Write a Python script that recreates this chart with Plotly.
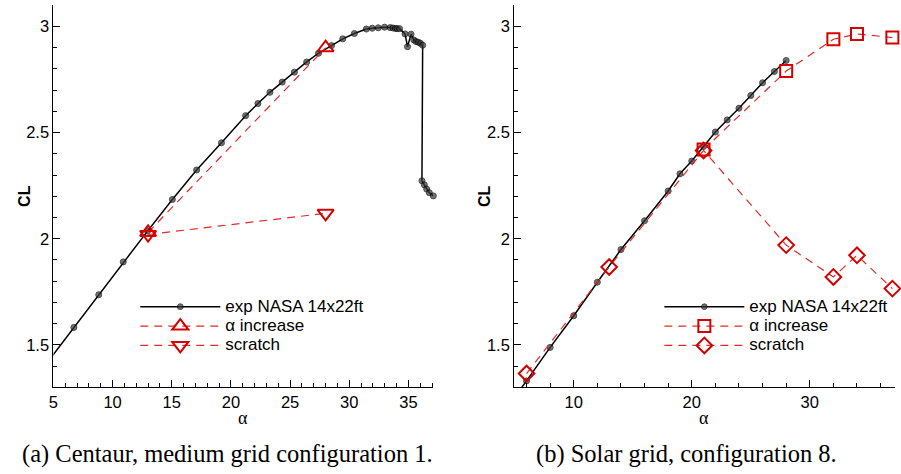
import plotly.graph_objects as go

# ---------------- data ----------------
# (a) Centaur, medium grid configuration 1
exp_a_alpha = [4.7, 6.73, 8.83, 10.9, 12.95, 15.05, 17.1, 19.2, 21.24, 22.28, 23.29, 24.33,
               25.36, 26.4, 27.4, 28.5, 29.45, 30.43, 31.44, 31.94, 32.45, 32.98, 33.46,
               33.7, 33.9, 34.05, 34.25, 34.71, 34.92, 35.22, 35.45, 35.64, 35.84, 36.01,
               36.2, 36.14, 36.34, 36.54, 36.76, 37.1]
exp_a_cl = [1.433, 1.582, 1.736, 1.891, 2.036, 2.185, 2.324, 2.452, 2.58, 2.637, 2.69, 2.738,
            2.785, 2.833, 2.874, 2.91, 2.942, 2.967, 2.988, 2.992, 2.994, 2.997, 2.995,
            2.993, 2.991, 2.99, 2.99, 2.965, 2.905, 2.964, 2.937, 2.929, 2.926, 2.921,
            2.912, 2.273, 2.254, 2.234, 2.217, 2.202]
inc_a_alpha = [13.0, 28.0]
inc_a_cl = [2.03, 2.90]
scr_a_alpha = [13.0, 28.0]
scr_a_cl = [2.02, 2.12]

# (b) Solar grid, configuration 8
exp_b_alpha = [4.0, 6.0, 8.0, 10.0, 12.0, 14.0, 16.0, 18.0, 19.0, 20.0, 21.0, 22.0, 23.0,
               24.0, 25.0, 26.0, 27.0, 28.0]
exp_b_cl = [1.18, 1.33, 1.488, 1.637, 1.795, 1.949, 2.085, 2.225, 2.306, 2.366, 2.435,
            2.503, 2.56, 2.615, 2.675, 2.735, 2.788, 2.84]
inc_b_alpha = [21.0, 28.0, 32.0, 34.0, 37.0]
inc_b_cl = [2.42, 2.79, 2.94, 2.965, 2.948]
scr_b_alpha = [6.0, 13.0, 21.0, 28.0, 32.0, 34.0, 37.0]
scr_b_cl = [1.365, 1.867, 2.416, 1.97, 1.82, 1.922, 1.765]

series_names = ["exp NASA 14x22ft", "\u03b1 increase", "scratch"]
captions = ["(a) Centaur, medium grid configuration 1.", "(b) Solar grid, configuration 8."]

# ---------------- layout helpers ----------------
W, H = 901, 474
XA_RANGE = [5, 37.1]
XB_RANGE = [4.95, 37.2]
Y_RANGE = [1.3, 3.1]

def px_x(p):
    return p / W

def px_y(p):
    return 1 - p / H

RED = "#d40000"
RED_LINE = "#e02a2a"
DASH = "8px,6px"
SANS = "Liberation Sans, Arial, sans-serif"
SERIF = "Liberation Serif, Times New Roman, serif"
EXP_FILL = "#383838"


def leg_name(s):
    return '<span style="font-size:17px">' + s + '</span>'


def exp_sizes(xs, xmin):
    return [0 if x < xmin else 6 for x in xs]


fig = go.Figure()

# left panel
fig.add_trace(go.Scatter(
    x=exp_a_alpha, y=exp_a_cl, mode="lines+markers", name=leg_name(series_names[0]),
    line=dict(color="black", width=1.5),
    marker=dict(symbol="circle", size=exp_sizes(exp_a_alpha, XA_RANGE[0]), color=EXP_FILL,
                line=dict(color="black", width=1)),
    cliponaxis=False, xaxis="x", yaxis="y", legend="legend"))
fig.add_trace(go.Scatter(
    x=inc_a_alpha, y=inc_a_cl, mode="lines+markers", name=leg_name(series_names[1]),
    line=dict(color=RED_LINE, width=1.2, dash=DASH),
    marker=dict(symbol="triangle-up-open", size=14, color=RED, line=dict(color=RED, width=2)),
    cliponaxis=False, xaxis="x", yaxis="y", legend="legend"))
fig.add_trace(go.Scatter(
    x=scr_a_alpha, y=scr_a_cl, mode="lines+markers", name=leg_name(series_names[2]),
    line=dict(color=RED_LINE, width=1.2, dash=DASH),
    marker=dict(symbol="triangle-down-open", size=14, color=RED, line=dict(color=RED, width=2)),
    cliponaxis=False, xaxis="x", yaxis="y", legend="legend"))

# right panel
fig.add_trace(go.Scatter(
    x=exp_b_alpha, y=exp_b_cl, mode="lines+markers", name=leg_name(series_names[0]),
    line=dict(color="black", width=1.5),
    marker=dict(symbol="circle", size=exp_sizes(exp_b_alpha, XB_RANGE[0]), color=EXP_FILL,
                line=dict(color="black", width=1)),
    cliponaxis=False, xaxis="x2", yaxis="y2", legend="legend2"))
fig.add_trace(go.Scatter(
    x=inc_b_alpha, y=inc_b_cl, mode="lines+markers", name=leg_name(series_names[1]),
    line=dict(color=RED_LINE, width=1.2, dash=DASH),
    marker=dict(symbol="square-open", size=12, color=RED, line=dict(color=RED, width=2)),
    cliponaxis=False, xaxis="x2", yaxis="y2", legend="legend2"))
fig.add_trace(go.Scatter(
    x=scr_b_alpha, y=scr_b_cl, mode="lines+markers", name=leg_name(series_names[2]),
    line=dict(color=RED_LINE, width=1.2, dash=DASH),
    marker=dict(symbol="diamond-open", size=12, color=RED, line=dict(color=RED, width=2)),
    cliponaxis=False, xaxis="x2", yaxis="y2", legend="legend2"))

tickfont = dict(family=SANS, size=16.5, color="black")

def xaxis_cfg(domain, rng, dtick, minor_dtick, anchor):
    return dict(domain=domain, range=rng, tick0=0, dtick=dtick, ticks="inside", ticklen=7,
                tickwidth=1, tickcolor="black",
                minor=dict(dtick=minor_dtick, tick0=0, ticks="inside", ticklen=4,
                           tickwidth=1, tickcolor="black", showgrid=False),
                showline=True, linecolor="black", linewidth=1, showgrid=False,
                zeroline=False, tickfont=tickfont, anchor=anchor, fixedrange=True)

def yaxis_cfg(domain, anchor):
    return dict(domain=domain, range=Y_RANGE, tick0=0, dtick=0.5, ticks="inside", ticklen=7,
                tickwidth=1, tickcolor="black",
                minor=dict(dtick=0.1, tick0=0, ticks="inside", ticklen=4,
                           tickwidth=1, tickcolor="black", showgrid=False),
                showline=True, linecolor="black", linewidth=1, showgrid=False,
                zeroline=False, tickfont=tickfont, anchor=anchor, fixedrange=True)

ydom = [px_y(387.3), px_y(5.3)]

legend_common = dict(xanchor="left", yanchor="top", itemwidth=80,
                     font=dict(family=SANS, size=12.6, color="black"),
                     bgcolor="rgba(0,0,0,0)", borderwidth=0, tracegroupgap=0,
                     traceorder="normal")

annotations = []
for cx in (19, 481.7):
    annotations.append(dict(text="<b>CL</b>", x=px_x(cx), y=px_y(196), xref="paper", yref="paper",
                            showarrow=False, textangle=-90, xanchor="center", yanchor="middle",
                            font=dict(family=SANS, size=16, color="black")))
for cx in (239.7, 703):
    annotations.append(dict(text="\u03b1", x=px_x(cx), y=px_y(418), xref="paper", yref="paper",
                            showarrow=False, xanchor="center", yanchor="middle",
                            font=dict(family=SERIF, size=18, color="black")))
for cap, cx in zip(captions, (223.5, 685.5)):
    annotations.append(dict(text=cap, x=px_x(cx), y=px_y(454), xref="paper", yref="paper",
                            showarrow=False, xanchor="center", yanchor="middle",
                            font=dict(family=SERIF, size=24.5, color="black")))

fig.update_layout(
    width=W, height=H, margin=dict(l=0, r=0, t=0, b=0),
    paper_bgcolor="white", plot_bgcolor="white",
    xaxis=xaxis_cfg([px_x(48.7), px_x(430.7)], XA_RANGE, 5, 1, "y"),
    yaxis=yaxis_cfg(ydom, "x"),
    xaxis2=xaxis_cfg([px_x(512), px_x(894.7)], XB_RANGE, 10, 2, "y2"),
    yaxis2=yaxis_cfg(ydom, "x2"),
    legend=dict(x=px_x(131), y=px_y(292), **legend_common),
    legend2=dict(x=px_x(658), y=px_y(292), **legend_common),
    annotations=annotations,
    showlegend=True,
)

fig.write_html("out.html")
